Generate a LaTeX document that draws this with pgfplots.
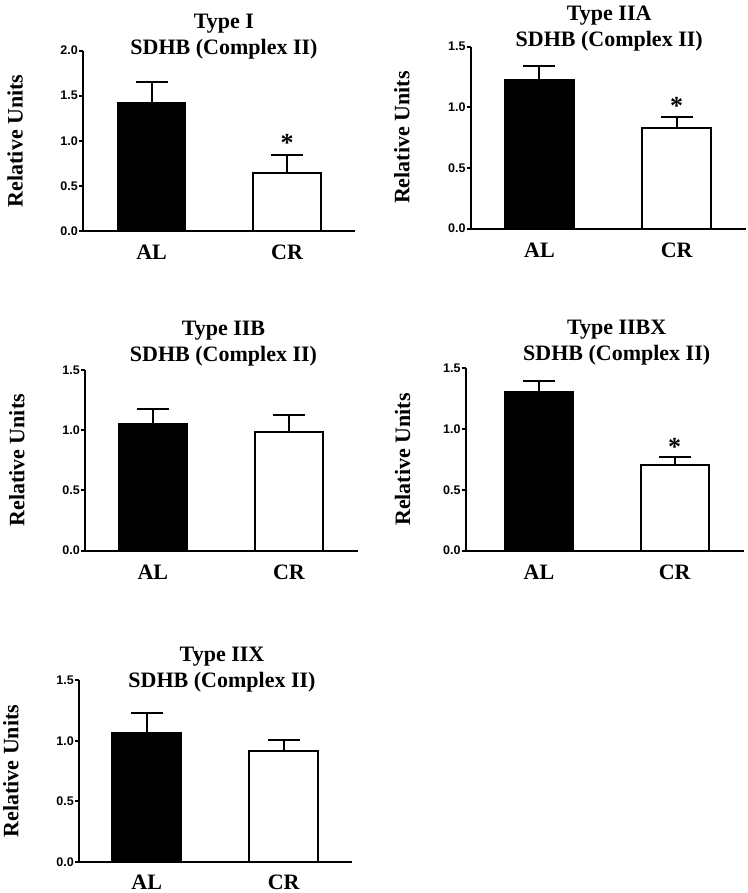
\documentclass[border=0pt]{standalone}
\usepackage{pgfplots}
\pgfplotsset{compat=1.18}
\usepackage{fontspec}
\setmainfont{Liberation Serif}
\newfontfamily\arialf{Liberation Sans}
\tikzset{sigstar/.style={font=\bfseries\fontsize{26bp}{26bp}\selectfont, anchor=base, inner sep=0pt}}
\pgfplotsset{
  panel/.style={
    scale only axis, width=274bp, height=181bp,
    axis x line=bottom, axis y line=left,
    axis line style={-, line width=2bp, black},
    ymin=0, xmin=-0.5, xmax=1.5,
    xtick={0,1}, xticklabels={AL,CR},
    x tick style={draw=none},
    ytick={0,0.5,1,1.5,2},
    tick align=outside, major tick length=4bp,
    y tick style={line width=2bp, black},
    /pgf/number format/assume math mode=true,
    yticklabel style={font=\arialf\bfseries\fontsize{12.5bp}{14bp}\selectfont, inner sep=1bp,
      /pgf/number format/.cd, fixed, fixed zerofill, precision=1},
    xticklabel style={font=\bfseries\fontsize{22bp}{26bp}\selectfont, inner sep=0pt, yshift=-10bp},
    ylabel={Relative Units},
    ylabel style={font=\bfseries\fontsize{22bp}{26bp}\selectfont, at={(axis description cs:-0.25,0.5)}, anchor=center},
    title style={font=\bfseries\fontsize{22bp}{26bp}\selectfont, align=center, anchor=south, inner sep=0pt},
    clip=false,
  },
  alstyle/.style={ybar, bar shift=0pt, bar width=0.5, fill=black, draw=black, line width=2bp,
    error bars/.cd, y dir=plus, y explicit, error mark=|,
    error bar style={line width=2bp, black},
    error mark options={mark size=16bp, line width=2bp, black}},
  crstyle/.style={ybar, bar shift=0pt, bar width=0.5, fill=white, draw=black, line width=2bp,
    error bars/.cd, y dir=plus, y explicit, error mark=|,
    error bar style={line width=2bp, black},
    error mark options={mark size=16bp, line width=2bp, black}},
}
\begin{document}
\begin{tikzpicture}[x=1bp,y=1bp]
\path[use as bounding box] (0,0) rectangle (748,893);
% Panel 1
\begin{axis}[panel, at={(83bp,662bp)}, width=272bp, height=180.3bp, ymax=2.0,
  xmin=-0.506, xmax=1.502,
  title={Type I\\SDHB (Complex II)}, title style={xshift=5bp, yshift=-14.5bp}]
\addplot[alstyle] coordinates {(0,1.42) +- (0,0.23)};
\addplot[crstyle] coordinates {(1,0.64) +- (0,0.20)};
\node[sigstar, yshift=3.3bp] at (axis cs:1,0.84) {*};
\end{axis}
% Panel 2
\begin{axis}[panel, at={(470.7bp,664.3bp)}, width=275bp, height=182bp, ymax=1.5,
  xmin=-0.501, xmax=1.503,
  title={Type IIA\\SDHB (Complex II)}, title style={xshift=1bp, yshift=-10.8bp}]
\addplot[alstyle] coordinates {(0,1.226) +- (0,0.114)};
\addplot[crstyle] coordinates {(1,0.833) +- (0,0.085)};
\node[sigstar, yshift=3.2bp] at (axis cs:1,0.918) {*};
\end{axis}
% Panel 3
\begin{axis}[panel, at={(85bp,342.3bp)}, width=273bp, height=180.7bp, ymax=1.5,
  xmin=-0.498, xmax=1.507,
  title={Type IIB\\SDHB (Complex II)}, title style={xshift=2bp, yshift=-2.5bp}]
\addplot[alstyle] coordinates {(0,1.05) +- (0,0.127)};
\addplot[crstyle] coordinates {(1,0.988) +- (0,0.139)};
\end{axis}
% Panel 4
\begin{axis}[panel, at={(465.7bp,342.3bp)}, width=278bp, height=182.4bp, ymax=1.5,
  xmin=-0.54, xmax=1.509,
  ylabel style={at={(axis description cs:-0.227,0.5)}},
  title={Type IIBX\\SDHB (Complex II)}, title style={xshift=12bp, yshift=-3.5bp}]
\addplot[alstyle] coordinates {(0,1.303) +- (0,0.092)};
\addplot[crstyle] coordinates {(1,0.705) +- (0,0.063)};
\node[sigstar, yshift=1.6bp] at (axis cs:1,0.768) {*};
\end{axis}
% Panel 5
\begin{axis}[panel, at={(79bp,31bp)}, width=273bp, height=181.7bp, ymax=1.5,
  xmin=-0.494, xmax=1.499,
  xticklabel style={yshift=1.5bp},
  title={Type IIX\\SDHB (Complex II)}, title style={xshift=6.5bp, yshift=-17.8bp}]
\addplot[alstyle] coordinates {(0,1.068) +- (0,0.165)};
\addplot[crstyle] coordinates {(1,0.917) +- (0,0.090)};
\end{axis}
\end{tikzpicture}
\end{document}
